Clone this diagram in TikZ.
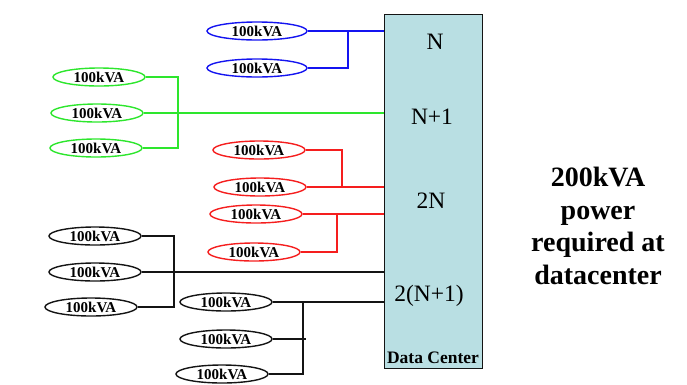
\documentclass[tikz,border=0pt]{standalone}
\usepackage{fontspec}
\setmainfont{Liberation Serif}
\usetikzlibrary{shapes.geometric}
\definecolor{boxfill}{RGB}{185,223,227}
\definecolor{cblue}{RGB}{20,20,240}
\definecolor{cgreen}{RGB}{45,230,45}
\definecolor{cred}{RGB}{245,30,30}
\definecolor{cblack}{RGB}{20,20,20}
\tikzset{
  src/.style={ellipse, draw=#1, line width=1.4pt, minimum width=92pt, minimum height=18pt, inner sep=0pt,
    font=\fontsize{15}{15}\selectfont\bfseries},
  wire/.style={draw=#1, line width=1.3pt},
  lbl/.style={font=\fontsize{23.5}{24}\selectfont}
}
\begin{document}
\begin{tikzpicture}[x=1pt,y=-1pt]
\useasboundingbox (0,0) rectangle (687,384);
% data center box
\node[draw=cblack, line width=1.1pt, fill=boxfill, minimum width=98pt, minimum height=354pt, inner sep=0pt, anchor=north west] (dc) at (384,14) {};
\node[lbl] (tN) at (435,42) {N};
\node[lbl] (tN1) at (432,117) {N+1};
\node[lbl] (t2N) at (431,201) {2N};
\node[lbl] (t2N1) at (429,296) {2(N+1)};
\node[font=\fontsize{17.5}{18}\selectfont\bfseries] (tdc) at (433,358) {Data Center};
% right text
\node[align=center, font=\fontsize{28}{32.5}\selectfont\bfseries] (req) at (598,226) {200kVA\\power\\required at\\datacenter};
% blue (N)
\node[src=cblue, minimum width=100pt] (b1) at (257,31) {100kVA};
\node[src=cblue, minimum width=100pt] (b2) at (257,68) {100kVA};
\coordinate (bj) at (348,31);
\coordinate (bj2) at (348,68);
\draw[wire=cblue] (b1.east) -- (b1.east -| dc.west);
\draw[wire=cblue] (b2.east) -- (bj2) -- (bj);
% green (N+1)
\node[src=cgreen] (g1) at (99,77) {100kVA};
\node[src=cgreen] (g2) at (97,113) {100kVA};
\node[src=cgreen] (g3) at (96,148) {100kVA};
\coordinate (gj1) at (178,77);
\coordinate (gj3) at (178,148);
\draw[wire=cgreen] (g1.east) -- (gj1) -- (gj3) -- (g3.east);
\draw[wire=cgreen] (g2.east) -- (g2.east -| dc.west);
% red (2N)
\node[src=cred] (r1) at (259,150) {100kVA};
\node[src=cred] (r2) at (260,187) {100kVA};
\node[src=cred] (r3) at (256,214) {100kVA};
\node[src=cred] (r4) at (254,252) {100kVA};
\coordinate (rj1) at (342,150);
\coordinate (rj2) at (342,187);
\coordinate (rj3) at (337,214);
\coordinate (rj4) at (337,252);
\draw[wire=cred] (r1.east) -- (rj1) -- (rj2);
\draw[wire=cred] (r2.east) -- (r2.east -| dc.west);
\draw[wire=cred] (r3.east) -- (r3.east -| dc.west);
\draw[wire=cred] (r4.east) -- (rj4) -- (rj3);
% black (2(N+1))
\node[src=cblack] (k1) at (95,236) {100kVA};
\node[src=cblack] (k2) at (95,272) {100kVA};
\node[src=cblack] (k3) at (91,307) {100kVA};
\coordinate (kj1) at (174,236);
\coordinate (kj3) at (174,307);
\draw[wire=cblack] (k1.east) -- (kj1) -- (kj3) -- (k3.east);
\draw[wire=cblack] (k2.east) -- (k2.east -| dc.west);
\node[src=cblack] (k4) at (226,302) {100kVA};
\node[src=cblack] (k5) at (226,339) {100kVA};
\node[src=cblack] (k6) at (222,374) {100kVA};
\coordinate (kj4) at (303,302);
\coordinate (kj5) at (306,339);
\coordinate (kj6) at (303,374);
\draw[wire=cblack] (k4.east) -- (k4.east -| dc.west);
\draw[wire=cblack] (kj4) -- (kj6) -- (k6.east);
\draw[wire=cblack] (k5.east) -- (kj5);
\end{tikzpicture}
\end{document}
